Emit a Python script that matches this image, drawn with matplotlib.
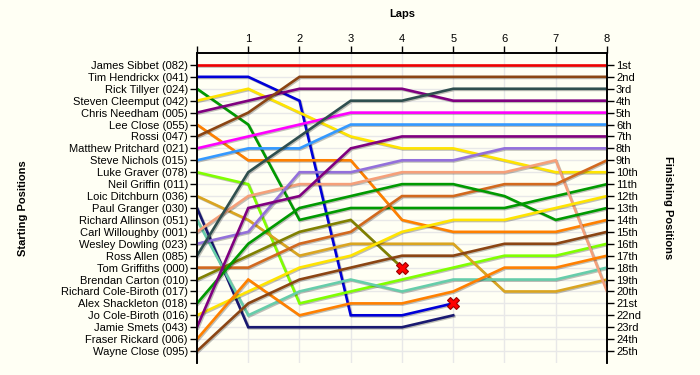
import matplotlib
matplotlib.use("Agg")
import matplotlib.pyplot as plt
import matplotlib.patheffects as pe

# Starting grid (top to bottom) and colours of each driver's line
drivers = ["James Sibbet (082)", "Tim Hendrickx (041)", "Rick Tillyer (024)",
           "Steven Cleemput (042)", "Chris Needham (005)", "Lee Close (055)",
           "Rossi (047)", "Matthew Pritchard (021)", "Steve Nichols (015)",
           "Luke Graver (078)", "Neil Griffin (011)", "Loic Ditchburn (036)",
           "Paul Granger (030)", "Richard Allinson (051)", "Carl Willoughby (001)",
           "Wesley Dowling (023)", "Ross Allen (085)", "Tom Griffiths (000)",
           "Brendan Carton (010)", "Richard Cole-Biroth (017)", "Alex Shackleton (018)",
           "Jo Cole-Biroth (016)", "Jamie Smets (043)", "Fraser Rickard (006)",
           "Wayne Close (095)"]
colours = ["#ee0000", "#0000d8", "#009a00", "#ffe400", "#800080", "#ff8000",
           "#8b4513", "#ff00ff", "#3399ff", "#80ff00", "#fffff4", "#daa520",
           "#191970", "#66cdaa", "#f5a07a", "#9370db", "#2f4f4f", "#d2691e",
           "#808000", "#fffff4", "#009a00", "#ffe400", "#800080", "#ff8000",
           "#8b4513"]

# position at lap 0..8 (shorter list = retired / did not start)
positions = [
    [1, 1, 1, 1, 1, 1, 1, 1, 1],
    [2, 2, 4, 22, 22, 21],
    [3, 6, 14, 13, 13, 13, 13, 12, 11],
    [4, 3, 5, 7, 8, 8, 9, 10, 10],
    [5, 4, 3, 3, 3, 4, 4, 4, 4],
    [6, 9, 9, 9, 14, 15, 15, 15, 14],
    [7, 5, 2, 2, 2, 2, 2, 2, 2],
    [8, 7, 6, 5, 5, 5, 5, 5, 5],
    [9, 8, 8, 6, 6, 6, 6, 6, 6],
    [10, 11, 21, 20, 19, 18, 17, 17, 16],
    [11],
    [12, 14, 17, 16, 16, 16, 20, 20, 19],
    [13, 23, 23, 23, 23, 22],
    [14, 22, 20, 19, 20, 19, 19, 19, 18],
    [15, 12, 11, 11, 10, 10, 10, 9, 20],
    [16, 15, 10, 10, 9, 9, 8, 8, 8],
    [17, 10, 7, 4, 4, 3, 3, 3, 3],
    [18, 18, 16, 15, 12, 12, 11, 11, 9],
    [19, 17, 15, 14, 18],
    [20],
    [21, 16, 13, 12, 11, 11, 12, 14, 13],
    [22, 20, 18, 17, 15, 14, 14, 13, 12],
    [23, 13, 12, 8, 7, 7, 7, 7, 7],
    [24, 19, 22, 21, 21, 20, 18, 18, 17],
    [25, 21, 19, 18, 17, 17, 16, 16, 15],
]
crashed = ["Tim Hendrickx (041)", "Brendan Carton (010)"]

laps = [0, 1, 2, 3, 4, 5, 6, 7, 8]
finish_labels = ["1st", "2nd", "3rd", "4th", "5th", "6th", "7th", "8th", "9th",
                 "10th", "11th", "12th", "13th", "14th", "15th", "16th", "17th",
                 "18th", "19th", "20th", "21st", "22nd", "23rd", "24th", "25th"]

plt.rcParams['font.family'] = ['Liberation Sans', 'DejaVu Sans']
bg = "#fffff4"
fs = 8

fig = plt.figure(figsize=(7, 3.75), dpi=100, facecolor=bg)
ax = fig.add_axes([0.2814, 0.032, 0.5857, 0.8267], facecolor=bg)

shadow = [pe.SimpleLineShadow(offset=(0.8, -0.8), alpha=0.25), pe.Normal()]
for name, col, pos in zip(drivers, colours, positions):
    if len(pos) < 2:
        continue
    ax.plot(laps[:len(pos)], pos, color=col, lw=1.9, solid_joinstyle='miter',
            path_effects=shadow, zorder=3)
    if name in crashed:
        ax.plot(laps[len(pos) - 1], pos[-1], marker='X', ms=8, color='#ff0000',
                mec='#990000', mew=0.8, zorder=5)

ax.set_xlim(0, 8)
ax.set_ylim(26, 0)
ax.grid(True, color='#e8e8e8', lw=1, zorder=0)
ax.set_axisbelow(True)

ax.xaxis.set_ticks_position('top')
ax.xaxis.set_label_position('top')
ax.set_xticks(laps)
ax.set_xticklabels([""] + [str(l) for l in laps[1:]], fontsize=fs)
ax.set_xlabel("Laps", fontsize=fs, fontweight='bold')
ax.xaxis.set_label_coords(0.5, 1.115)

ax.set_yticks(range(1, len(drivers) + 1))
ax.set_yticklabels(drivers, fontsize=fs)
ax.set_ylabel("Starting Positions", fontsize=fs, fontweight='bold')
ax.yaxis.set_label_coords(-0.412, 0.5)
ax.tick_params(length=5, width=1, pad=1.5, colors='black')

ax2 = ax.twinx()
ax2.set_ylim(26, 0)
ax2.set_yticks(range(1, len(finish_labels) + 1))
ax2.set_yticklabels(finish_labels, fontsize=fs)
ax2.tick_params(length=5, width=1, pad=1.5)
ax2.set_ylabel("Finishing Positions", fontsize=fs, fontweight='bold',
               rotation=-90, va='center')
ax2.yaxis.set_label_coords(1.149, 0.5)

for a in (ax, ax2):
    a.spines['bottom'].set_visible(False)
    for s in ('left', 'right', 'top'):
        a.spines[s].set_linewidth(1.2)

fig.savefig("out.png", dpi=100, facecolor=bg)
